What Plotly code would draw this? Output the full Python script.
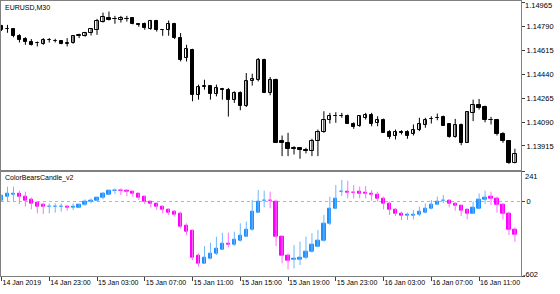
import plotly.graph_objects as go

# ---------------- data ----------------
bar_index = list(range(87))  # M30 bars from 14 Jan 2019 19:00

time_tick_bars = [0, 8, 16, 24, 32, 40, 48, 56, 64, 72, 80]
time_tick_labels = ["14 Jan 2019", "14 Jan 23:00", "15 Jan 03:00", "15 Jan 07:00",
                    "15 Jan 11:00", "15 Jan 15:00", "15 Jan 19:00", "15 Jan 23:00",
                    "16 Jan 03:00", "16 Jan 07:00", "16 Jan 11:00"]

price_ticks = [1.14965, 1.14790, 1.14615, 1.14440, 1.14265, 1.14090, 1.13915]
ind_ticks = [241, 0, -602]

open_ = [1.14795,1.14773,1.14771,1.14718,1.14700,1.14680,1.14666,1.14664,1.14690,1.14687,
         1.14685,1.14664,1.14669,1.14722,1.14722,1.14742,1.14766,1.14826,1.14856,1.14842,
         1.14839,1.14848,1.14853,1.14808,1.14810,1.14773,1.14834,1.14764,1.14761,1.14810,
         1.14705,1.14559,1.14620,1.14291,1.14346,1.14357,1.14296,1.14332,1.14322,1.14249,
         1.14303,1.14205,1.14388,1.14400,1.14547,1.14303,1.14400,1.13950,1.13933,1.13896,
         1.13896,1.13882,1.13877,1.13950,1.14015,1.14108,1.14135,1.14137,1.14132,1.14079,
         1.14059,1.14121,1.14145,1.14084,1.14108,1.14015,1.13986,1.14015,1.14018,1.13999,
         1.14035,1.14067,1.14111,1.14121,1.14128,1.14072,1.13982,1.14067,1.13938,1.14157,
         1.14218,1.14201,1.14106,1.14103,1.13999,1.13950,1.13787]
high = [1.14802,1.14802,1.14777,1.14734,1.14712,1.14698,1.14680,1.14705,1.14705,1.14700,
        1.14690,1.14705,1.14726,1.14737,1.14751,1.14778,1.14846,1.14892,1.14900,1.14868,
        1.14868,1.14868,1.14857,1.14815,1.14819,1.14839,1.14839,1.14771,1.14834,1.14817,
        1.14742,1.14656,1.14627,1.14364,1.14400,1.14360,1.14364,1.14340,1.14340,1.14315,
        1.14315,1.14449,1.14444,1.14559,1.14554,1.14420,1.14408,1.13991,1.14011,1.13913,
        1.13901,1.13901,1.13967,1.14035,1.14169,1.14157,1.14162,1.14157,1.14145,1.14088,
        1.14137,1.14157,1.14157,1.14132,1.14115,1.14030,1.14035,1.14030,1.14030,1.14072,
        1.14121,1.14121,1.14132,1.14152,1.14137,1.14079,1.14113,1.14079,1.14167,1.14254,
        1.14259,1.14210,1.14128,1.14113,1.14015,1.13955,1.13894]
low = [1.14758,1.14744,1.14711,1.14673,1.14656,1.14651,1.14644,1.14656,1.14673,1.14673,
       1.14660,1.14644,1.14664,1.14705,1.14715,1.14724,1.14729,1.14819,1.14834,1.14810,
       1.14819,1.14826,1.14806,1.14788,1.14766,1.14766,1.14753,1.14722,1.14722,1.14698,
       1.14534,1.14534,1.14242,1.14254,1.14327,1.14254,1.14278,1.14254,1.14130,1.14230,
       1.14176,1.14200,1.14357,1.14388,1.14302,1.14286,1.13936,1.13840,1.13840,1.13852,
       1.13821,1.13860,1.13840,1.13840,1.14011,1.14079,1.14084,1.14121,1.14075,1.14040,
       1.14055,1.14108,1.14059,1.14059,1.14010,1.13967,1.13962,1.13999,1.13967,1.13991,
       1.14023,1.14048,1.14079,1.14103,1.14061,1.13975,1.13975,1.13920,1.13936,1.14096,
       1.14181,1.14088,1.14072,1.13991,1.13938,1.13783,1.13787]
close = [1.14766,1.14771,1.14717,1.14693,1.14676,1.14656,1.14669,1.14693,1.14688,1.14685,
         1.14664,1.14669,1.14722,1.14729,1.14742,1.14771,1.14834,1.14859,1.14839,1.14844,
         1.14851,1.14846,1.14810,1.14802,1.14778,1.14832,1.14761,1.14766,1.14810,1.14705,
         1.14547,1.14625,1.14291,1.14347,1.14354,1.14298,1.14340,1.14322,1.14249,1.14303,
         1.14205,1.14393,1.14406,1.14547,1.14303,1.14395,1.13938,1.13933,1.13894,1.13894,
         1.13882,1.13880,1.13950,1.14018,1.14108,1.14132,1.14137,1.14135,1.14079,1.14055,
         1.14132,1.14145,1.14079,1.14108,1.14011,1.13982,1.14018,1.14013,1.13991,1.14035,
         1.14072,1.14103,1.14113,1.14118,1.14064,1.13982,1.14067,1.13938,1.14162,1.14218,
         1.14194,1.14103,1.14108,1.13999,1.13950,1.13787,1.13852]

# ColorBearsCandle_v2 indicator candles
ind_open = [6.7,39,58,60.6,39,17.5,-9.4,-28.3,-43,-42,
            -42,-45,-48,-47.1,-25.6,-4,6.7,28.3,52.5,86,
            88,87.5,79.5,60.6,39,-1.3,-20.2,-41.7,-63.3,-82.1,
            -101,-198,-235.6,-440,-499.5,-459,-424,-386,-340,-351,
            -316,-284,-230,-90,5,8,-1.3,-284,-440,-470,
            -467,-451,-405,-365,-316,-182,-55,78,79.5,71,
            76.8,71.4,66,52.5,25.6,-14.8,-68.7,-101,-112,-111.7,
            -109,-87.5,-55,-23,5,6.7,-14.8,-36.3,-68.7,-95.6,
            -55,17.5,39,25.6,-28.3,-95.6,-225]
ind_high = [52.5,120,120,87.5,79.5,33.7,-1.3,-14.8,-14.8,-14.8,
            -14.8,-28.3,-14.8,-20,17.5,25.6,33.7,76.8,93,106.4,
            106.4,98.3,87.5,66,44.5,6.7,-14.8,-36.3,-55.2,-68.7,
            -82.1,-176,-230,-419,-359.5,-332.6,-284,-252,-252,-244,
            -176,-163,12,93,87.5,79.5,6.7,-284,-419,-351,
            -324.5,-284,-257,-230,-109,39,133,174,168,133,
            120,125,93,79.5,39,-1.3,-55,-82,-90,-68.7,
            -41.7,-14.8,12,39,52.5,17.5,-9.4,-28.3,-63,-1.3,
            66,87.5,79.5,39,-14.8,-82,-208.7]
ind_low = [-1.3,-1.3,-1.3,-20.2,-41.7,-63.3,-95.6,-101,-95.6,-90,
           -82,-74,-68.7,-52,-36,-14.8,1.4,17.5,50,60.6,
           52.5,44.5,39,12.1,-20.2,-47.1,-68.7,-95.6,-109,-122.5,
           -217,-271,-472.6,-526.5,-505,-467,-432,-392,-370,-359.5,
           -324.5,-284,-235.6,-90,-47,-55,-359.5,-499.5,-548,-540,
           -513,-467,-413,-370,-324.5,-190,-63,44.5,25.6,25.6,
           25.6,25.6,6.7,-1.3,-63.3,-109,-117,-149.5,-149.5,-144,
           -117,-95.6,-63,-28,-14.8,-47,-74,-117,-144,-101,
           -63,-20,-28,-90,-144,-270.6,-324.5]
ind_close = [44.5,60.6,63.3,39,6.7,-14.8,-41.7,-41.7,-40,-40,
             -40,-48,-45,-25.6,-4,6.7,28.3,60.6,84.8,88,
             86,79.5,60.6,33.7,-1.3,-20.2,-41.7,-68.7,-90.2,-109,
             -203,-244,-451,-499.5,-451,-419,-378,-338,-345,-305.6,
             -279,-225,-82,-1.3,8,5,-284,-440,-478,-466,
             -451,-405,-351,-316,-182,-55,25.6,81,71.4,68,
             66,60.6,52.5,25.6,-14.8,-68.7,-101,-111.7,-109,-103.7,
             -82,-55,-23,-1.3,8,-14.8,-36.3,-74,-95.6,-47,
             17.5,33.7,25.6,-28.3,-95.6,-225,-270.6]

# ---------------- styling / layout constants ----------------
W, H = 560, 294
ML, MR, MT, MB = 1, 39, 1, 18
PW, PH = W - ML - MR, H - MT - MB
FONT = "Liberation Sans"
FS = 7.5      # price labels
FS_S = 7      # titles and time labels
FRAME = "#808080"
BLUE, MAGENTA = "#1E90FF", "#FF00FF"
BLUE_W, MAGENTA_W = "#6fb6ff", "#ff6fff"
BODY_W = 0.55
BAR_PX = 5.97


def py2paper(py):
    return (MT + PH - py) / PH


def px2paper(px):
    return (px - ML) / PW


main_dom = [py2paper(169.5), 1.0]
sub_dom = [0.0, py2paper(171.7)]
xr = [(ML - 1.5) / BAR_PX, (ML + PW - 1.5) / BAR_PX]


def wick_xy(xs, lo, hi):
    wx, wy = [], []
    for xi, a, b in zip(xs, lo, hi):
        wx += [xi, xi, None]
        wy += [a, b, None]
    return wx, wy


fig = go.Figure()

# main chart wicks
wx, wy = wick_xy(bar_index, low, high)
fig.add_trace(go.Scatter(x=wx, y=wy, mode="lines", line=dict(color="#000000", width=1),
                         xaxis="x", yaxis="y", hoverinfo="skip", showlegend=False))
# main chart bodies
base = [min(a, b) for a, b in zip(open_, close)]
hgt = [max(abs(b - a), 0.000015) for a, b in zip(open_, close)]
fill = ["#ffffff" if c >= o else "#000000" for o, c in zip(open_, close)]
fig.add_trace(go.Bar(x=bar_index, y=hgt, base=base, width=BODY_W,
                     marker=dict(color=fill, line=dict(color="#000000", width=1)),
                     xaxis="x", yaxis="y", hoverinfo="skip", showlegend=False))

# indicator wicks (per colour)
up = [c >= o for o, c in zip(ind_open, ind_close)]
for flag, col in ((True, BLUE_W), (False, MAGENTA_W)):
    xs = [i for i, u in zip(bar_index, up) if u == flag]
    lo = [v for v, u in zip(ind_low, up) if u == flag]
    hi = [v for v, u in zip(ind_high, up) if u == flag]
    wx, wy = wick_xy(xs, lo, hi)
    fig.add_trace(go.Scatter(x=wx, y=wy, mode="lines", line=dict(color=col, width=1),
                             xaxis="x2", yaxis="y2", hoverinfo="skip", showlegend=False))

ibase = [min(a, b) for a, b in zip(ind_open, ind_close)]
ihgt = [max(abs(b - a), 2.0) for a, b in zip(ind_open, ind_close)]
icol = [BLUE if u else MAGENTA for u in up]
fig.add_trace(go.Bar(x=bar_index, y=ihgt, base=ibase, width=BODY_W,
                     marker=dict(color=icol, line=dict(color=icol, width=1)),
                     xaxis="x2", yaxis="y2", hoverinfo="skip", showlegend=False))

fig.add_shape(type="line", xref="x2 domain", yref="y2", x0=0, x1=1, y0=0, y1=0,
              line=dict(color="#b4b4b4", width=1, dash="dot"), layer="below")

axis_common = dict(showgrid=False, zeroline=False, showline=True, linecolor=FRAME,
                   linewidth=1, mirror=True, automargin=False, tickangle=0,
                   ticklabeloverflow="allow")
price_font = dict(family=FONT, size=FS, color="#000000")
small_font = dict(family=FONT, size=FS_S, color="#000000")

price_text = [f"{v:.5f}" for v in price_ticks]

fig.update_layout(
    template="none",
    width=W, height=H,
    margin=dict(l=ML, r=MR, t=MT, b=MB, pad=0),
    paper_bgcolor="#ffffff", plot_bgcolor="#ffffff",
    barmode="overlay", bargap=0,
    showlegend=False,
    hovermode=False,
    xaxis=dict(domain=[0, 1], anchor="y", range=xr, matches="x2",
               showticklabels=False, ticks="", **axis_common),
    yaxis=dict(domain=main_dom, anchor="x", side="right", range=[1.13742, 1.14977],
               tickvals=price_ticks, ticktext=[""] + price_text[1:],
               ticks="outside", ticklen=3, tickcolor="#404040",
               tickfont=price_font, **axis_common),
    xaxis2=dict(domain=[0, 1], anchor="y2", range=xr,
                tickvals=time_tick_bars, ticktext=time_tick_labels,
                ticks="outside", ticklen=4, tickcolor="#404040",
                ticklabelposition="outside right", tickfont=small_font, **axis_common),
    yaxis2=dict(domain=sub_dom, anchor="x2", side="right", range=[-602, 241],
                tickvals=ind_ticks, ticktext=["", "0", ""],
                ticks="outside", ticklen=3, tickcolor="#404040",
                tickfont=price_font, **axis_common),
)

fig.add_annotation(text=price_text[0], xref="paper", yref="paper",
                   x=px2paper(523), y=py2paper(5.5), xanchor="left", yanchor="middle",
                   showarrow=False, font=price_font)
fig.add_annotation(text="EURUSD,M30", xref="paper", yref="paper",
                   x=px2paper(3), y=py2paper(7), xanchor="left", yanchor="middle",
                   showarrow=False, font=small_font)
fig.add_annotation(text="ColorBearsCandle_v2", xref="paper", yref="paper",
                   x=px2paper(3), y=py2paper(177.5), xanchor="left", yanchor="middle",
                   showarrow=False, font=small_font)
fig.add_annotation(text=str(ind_ticks[0]), xref="paper", yref="paper",
                   x=px2paper(523), y=py2paper(176), xanchor="left", yanchor="middle",
                   showarrow=False, font=price_font)
fig.add_annotation(text=str(ind_ticks[2]), xref="paper", yref="paper",
                   x=px2paper(521), y=py2paper(274.5), xanchor="left", yanchor="middle",
                   showarrow=False, font=price_font)

fig.write_html("out.html")
